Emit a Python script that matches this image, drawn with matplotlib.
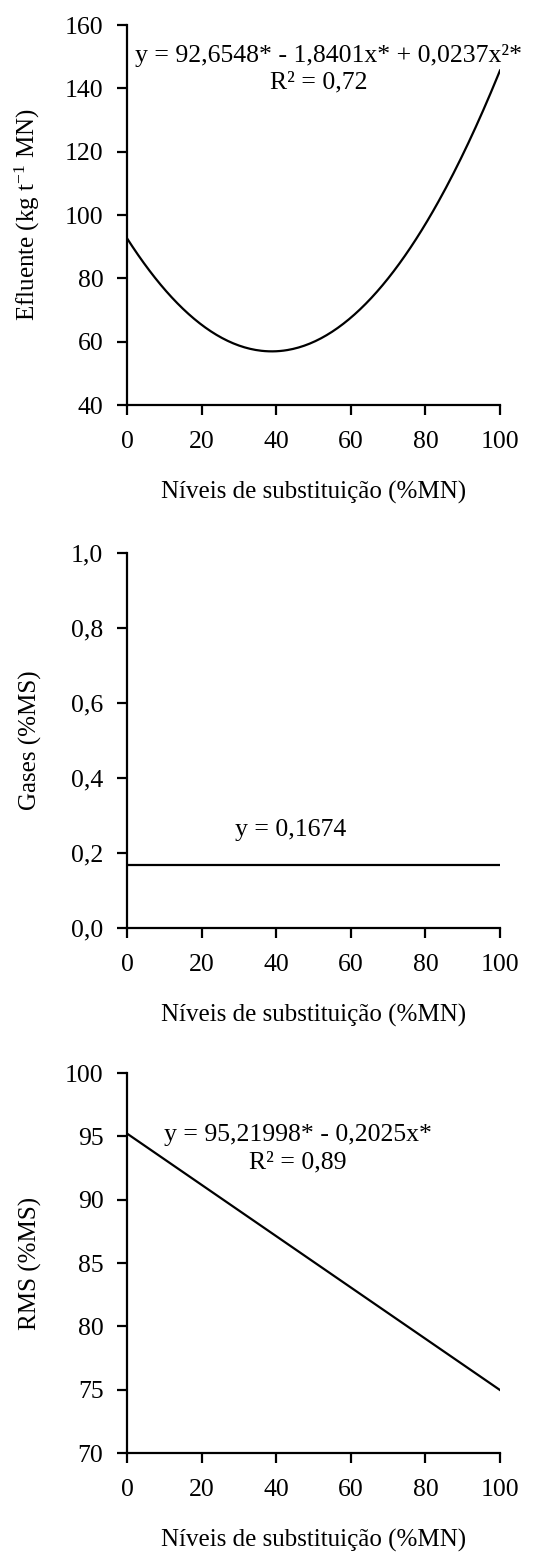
import numpy as np
import matplotlib
matplotlib.use("Agg")
import matplotlib.pyplot as plt

plt.rcParams['font.family'] = ['Liberation Serif', 'DejaVu Serif']
plt.rcParams['mathtext.fontset'] = 'custom'
plt.rcParams['mathtext.rm'] = 'Liberation Serif'
plt.rcParams['mathtext.it'] = 'Liberation Serif:italic'

# substitution levels (%MN)
x_ticks = [0, 20, 40, 60, 80, 100]

# fitted regression coefficients
efl_coef = [92.6548, -1.8401, 0.0237]   # quadratic
gas_mean = 0.1674                       # constant
rms_coef = [95.21998, -0.2025]          # linear

efl_eq, efl_r2 = "y = 92,6548* - 1,8401x* + 0,0237x²*", "R² = 0,72"
gas_eq = "y = 0,1674"
rms_eq, rms_r2 = "y = 95,21998* - 0,2025x*", "R² = 0,89"

xlabel = "Níveis de substituição (%MN)"

W, H = 541, 1553
fig = plt.figure(figsize=(W / 100, H / 100), dpi=100)

TICK_FS = 18.5
LABEL_FS = 18
NOTE_FS = 18.5


def make_axes(top_px, bot_px):
    left, right = 127, 500
    ax = fig.add_axes([left / W, 1 - bot_px / H, (right - left) / W, (bot_px - top_px) / H])
    for s in ['top', 'right']:
        ax.spines[s].set_visible(False)
    for s in ['left', 'bottom']:
        ax.spines[s].set_linewidth(1.6)
    ax.tick_params(direction='out', length=7, width=1.6, labelsize=TICK_FS)
    ax.tick_params(axis='x', pad=12)
    ax.tick_params(axis='y', pad=10)
    ax.set_xlim(0, 100)
    ax.set_xticks(x_ticks)
    ax.set_xlabel(xlabel, fontsize=LABEL_FS, labelpad=20)
    ax.yaxis.set_label_coords(-0.228, 0.5)
    return ax


xs = np.linspace(0, 100, 201)

# Efluente
ax1 = make_axes(25, 405)
ax1.plot(xs, efl_coef[0] + efl_coef[1] * xs + efl_coef[2] * xs ** 2, color='black', lw=1.6)
ax1.set_ylim(40, 160)
ax1.set_yticks([40, 60, 80, 100, 120, 140, 160])
ax1.set_ylabel("Efluente (kg t$^{-1}$ MN)", fontsize=LABEL_FS)
ax1.text(54, 150.5, efl_eq, ha='center', va='center', fontsize=NOTE_FS)
ax1.text(51.5, 141.7, efl_r2, ha='center', va='center', fontsize=NOTE_FS)

# Gases
ax2 = make_axes(553, 928)
ax2.plot(xs, np.full_like(xs, gas_mean), color='black', lw=1.6)
ax2.set_ylim(0, 1.0)
gas_ticks = np.arange(0, 1.01, 0.2)
ax2.set_yticks(gas_ticks)
ax2.set_yticklabels([f"{v:.1f}".replace('.', ',') for v in gas_ticks])
ax2.set_ylabel("Gases (%MS)", fontsize=LABEL_FS)
ax2.text(44, 0.261, gas_eq, ha='center', va='center', fontsize=NOTE_FS)

# RMS
ax3 = make_axes(1073, 1453)
ax3.plot(xs, rms_coef[0] + rms_coef[1] * xs, color='black', lw=1.6)
ax3.set_ylim(70, 100)
ax3.set_yticks([70, 75, 80, 85, 90, 95, 100])
ax3.set_ylabel("RMS (%MS)", fontsize=LABEL_FS)
ax3.text(45.8, 95.1, rms_eq, ha='center', va='center', fontsize=NOTE_FS)
ax3.text(45.8, 92.9, rms_r2, ha='center', va='center', fontsize=NOTE_FS)

fig.savefig("out.png", dpi=100)
